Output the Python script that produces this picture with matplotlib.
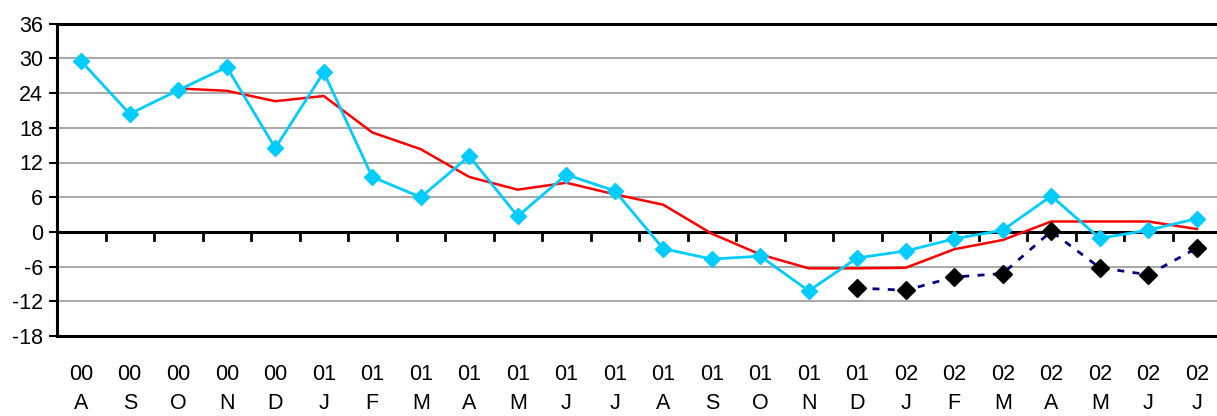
import numpy as np
import matplotlib
matplotlib.use("Agg")
import matplotlib.pyplot as plt

plt.rcParams['font.family'] = ['Liberation Sans', 'DejaVu Sans']
plt.rcParams['axes.unicode_minus'] = False

"""Monthly series, Aug 2000 - Jul 2002"""
years = ['00'] * 5 + ['01'] * 12 + ['02'] * 7
months = ['A', 'S', 'O', 'N', 'D', 'J', 'F', 'M', 'A', 'M', 'J', 'J',
          'A', 'S', 'O', 'N', 'D', 'J', 'F', 'M', 'A', 'M', 'J', 'J']

monthly = [29.5, 20.4, 24.5, 28.5, 14.5, 27.6, 9.5, 6.0, 13.1, 2.7, 9.9, 7.1,
           -2.9, -4.7, -4.2, -10.2, -4.5, -3.3, -1.2, 0.3, 6.2, -1.1, 0.3, 2.3]
# moving average, starts at the third month
smoothed = [None, None, 24.8, 24.4, 22.6, 23.5, 17.2, 14.3, 9.5, 7.3, 8.5, 6.5,
            4.7, -0.3, -3.9, -6.3, -6.3, -6.2, -3.0, -1.4, 1.8, 1.8, 1.8, 0.5]
# second series, from Dec 01
other = [None] * 16 + [-9.7, -10.1, -7.8, -7.2, 0.1, -6.2, -7.4, -2.8]

labels = [y + '\n' + m for y, m in zip(years, months)]
x = np.arange(len(labels))


def to_array(vals):
    return np.array([np.nan if v is None else v for v in vals], dtype=float)


fig = plt.figure(figsize=(12.17, 4.16), dpi=100)
ax = fig.add_axes([57 / 1217, 80 / 416, (1221 - 57) / 1217, 312.3 / 416])

ax.set_ylim(-18, 36)
ax.set_xlim(-0.5, len(labels) - 0.5)
ax.set_yticks(np.arange(-18, 37, 6))
ax.grid(axis='y', color='#999999', linewidth=1.2)
ax.set_axisbelow(True)

ax.axhline(0, color='black', linewidth=2.2, zorder=2)
for b in np.arange(0.5, len(labels) - 0.5):
    ax.plot([b, b], [0, -1.35], color='black', linewidth=2, zorder=2)

ax.plot(x, to_array(monthly), color='#00CCFF', linewidth=2, marker='D',
        markersize=8.5, zorder=4)
ax.plot(x, to_array(smoothed), color='#FF0000', linewidth=1.8, zorder=3)
ax.plot(x, to_array(other), color='#000080', linewidth=2, linestyle=(0, (2.5, 3)),
        marker='D', markersize=9.5, markerfacecolor='black',
        markeredgecolor='black', zorder=5)

ax.set_xticks(x)
ax.set_xticklabels(labels, fontsize=15.5, linespacing=1.5)
ax.tick_params(axis='x', length=0, pad=20)
ax.tick_params(axis='y', labelsize=15.5, length=6, width=1.5, pad=4)

for side in ['left', 'top', 'bottom']:
    ax.spines[side].set_linewidth(2.2)
ax.spines['right'].set_visible(False)

fig.savefig('out.png', dpi=100)
